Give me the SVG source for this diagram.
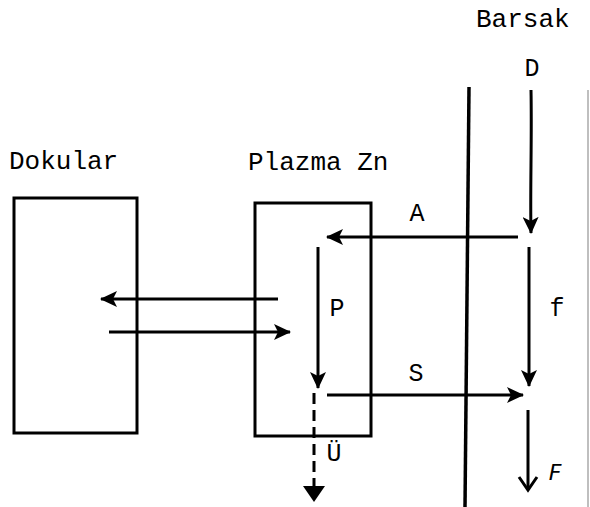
<svg xmlns="http://www.w3.org/2000/svg" width="590" height="507" viewBox="0 0 590 507">
<defs>
<style>
.box{fill:none;stroke:#000;stroke-width:3}
.ln{fill:none;stroke:#000;stroke-width:3}
.arr{fill:none;stroke:#000;stroke-width:3;marker-end:url(#ah)}
.t{font-family:"Liberation Mono","Courier New",monospace;font-size:26px;fill:#000}
.s{font-family:"Liberation Mono","Courier New",monospace;font-size:25px;fill:#000;text-anchor:middle}
</style>
<marker id="ah" viewBox="0 0 17 16" refX="16" refY="8" markerWidth="17" markerHeight="16" markerUnits="userSpaceOnUse" orient="auto">
<path d="M0,0 L17,8 L0,16 L4,8 Z" fill="#000"/>
</marker>
</defs>
<rect width="590" height="507" fill="#fff"/>
<g id="dokular">
<rect class="box" x="14" y="198" width="123" height="235"/>
<text class="t" x="9" y="169">Dokular</text>
</g>
<g id="plazma">
<rect class="box" x="255" y="203" width="116" height="233"/>
<text class="t" x="248" y="170">Plazma Zn</text>
</g>
<g id="barsak">
<line class="ln" x1="469" y1="87" x2="465" y2="507" style="stroke-width:3.5"/>
<text class="t" x="476" y="27">Barsak</text>
</g>
<g id="edge">
<line x1="588" y1="90" x2="588" y2="507" stroke="#aaa" stroke-width="1.5"/>
</g>
<g id="connectors">
<line class="arr" x1="278" y1="299" x2="101" y2="299"/>
<line class="arr" x1="109" y1="332" x2="290" y2="332"/>
<line class="arr" x1="518" y1="237" x2="327" y2="237"/>
<line class="arr" x1="318" y1="247" x2="318" y2="388"/>
<line class="arr" x1="327" y1="395" x2="523" y2="395"/>
<path class="arr" d="M531,90 C532,140 530,190 531,233"/>
<line class="arr" x1="529" y1="247" x2="529" y2="386"/>
<line class="ln" x1="314" y1="393" x2="314" y2="486" stroke-dasharray="11,6"/>
<path d="M303,486 L325,486 L314,502 Z" fill="#000"/>
<line class="ln" x1="528" y1="410" x2="528" y2="489"/>
<polyline class="ln" points="519,477 528,490 537,477"/>
</g>
<g id="labels">
<text class="s" x="532" y="76">D</text>
<text class="s" x="417" y="221">A</text>
<text class="s" x="337" y="316">P</text>
<text class="s" x="557" y="316">f</text>
<text class="s" x="416" y="381">S</text>
<text class="s" x="334" y="461">Ü</text>
<text x="555" y="480" style="font-family:'DejaVu Sans',sans-serif;font-style:italic;font-size:22px;text-anchor:middle">F</text>
</g>
</svg>
